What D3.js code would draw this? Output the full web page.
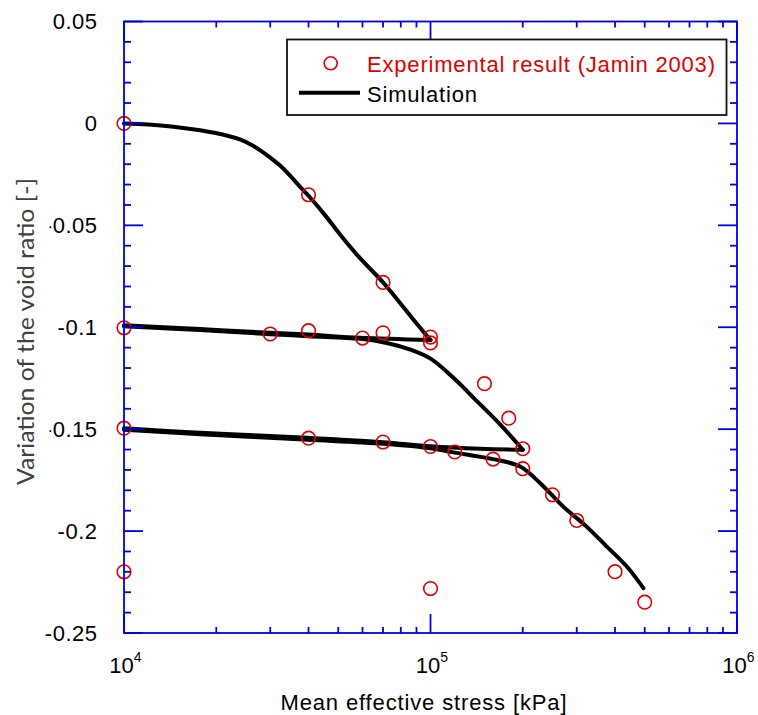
<!DOCTYPE html>
<html>
<head>
<meta charset="utf-8">
<script src="https://cdn.jsdelivr.net/npm/d3@7"></script>
<style>
  html, body { margin: 0; padding: 0; background: #fff; }
  svg { display: block; }
</style>
</head>
<body>
<svg id="chart" width="758" height="715"></svg>
<script>
// ---------------- data ----------------
const yTickValues = [0.05, 0, -0.05, -0.1, -0.15, -0.2, -0.25];
const yTickLabels = ["0.05", "0", "-0.05", "-0.1", "-0.15", "-0.2", "-0.25"];
const xTickValues = [1e4, 1e5, 1e6];
const xTickExponents = ["4", "5", "6"];

// experimental points [p (kPa), delta e]
const expStress = [1e4, 4e4, 7e4, 1e5, 1e5,
                   1e4, 3e4, 4e4, 6e4, 7e4, 1.5e5, 1.8e5, 2e5,
                   1e4, 4e4, 7e4, 1e5, 1.2e5, 1.6e5, 2e5, 2.5e5, 3e5, 4e5, 5e5,
                   1e4, 1e5];
const expVoid = [0, -0.035, -0.078, -0.1048, -0.1077,
                 -0.1003, -0.1033, -0.1017, -0.1053, -0.1027, -0.1277, -0.1446, -0.1596,
                 -0.1495, -0.1544, -0.1563, -0.1585, -0.1612, -0.1647, -0.1694, -0.1822, -0.1948, -0.2199, -0.2349,
                 -0.22, -0.2282];

// simulation branches
const simLoad1 = [[1e4,0],[1.2e4,-0.0005],[1.45e4,-0.0016],[1.77e4,-0.0034],[2.16e4,-0.0059],[2.4e4,-0.008],
  [2.6e4,-0.0105],[2.8e4,-0.0135],[3.0e4,-0.0168],[3.25e4,-0.021],[3.5e4,-0.026],[3.75e4,-0.031],[4e4,-0.0355],
  [4.5e4,-0.0445],[5.1e4,-0.055],[5.8e4,-0.065],[7e4,-0.078],[7.8e4,-0.0865],[8.8e4,-0.0963],[1e5,-0.1063]];
const simUnload1 = [[1e5,-0.1063],[5.9e4,-0.1052],[4e4,-0.1036],[3e4,-0.1027],[1.77e4,-0.1009],[1e4,-0.099]];
const simLoad2 = [[1e4,-0.0995],[1.77e4,-0.1014],[3e4,-0.1034],[4e4,-0.1044],[5.9e4,-0.1057],[7.2e4,-0.1077],
  [8.6e4,-0.111],[1e5,-0.1154],[1.19e5,-0.1249],[1.42e5,-0.1364],[1.69e5,-0.1478],[2e5,-0.1601]];
const simUnload2 = [[2e5,-0.1601],[1.45e5,-0.1596],[1e5,-0.1584],[7e4,-0.1564],[3.95e4,-0.1542],[1.77e4,-0.1518],[1e4,-0.1496]];
const simLoad3 = [[1e4,-0.1503],[1.77e4,-0.1525],[4e4,-0.1552],[7e4,-0.1572],[1e5,-0.1594],[1.19e5,-0.1614],
  [1.6e5,-0.1647],[1.96e5,-0.1683],[2.28e5,-0.1765],[2.71e5,-0.188],[3.23e5,-0.1978],[3.76e5,-0.2076],
  [4.37e5,-0.2174],[4.95e5,-0.228]];

const xTitle = "Mean effective stress [kPa]";
const yTitle = "Variation of the void ratio [-]";
const legendExp = "Experimental result (Jamin 2003)";
const legendSim = "Simulation";

// ---------------- drawing ----------------
const BLUE = "#0000e6", RED = "#e00000";
const svg = d3.select("#chart");
const L = 124, R = 737, T = 21.5, B = 633;
const x = d3.scaleLog().domain([1e4, 1e6]).range([L, R]);
const y = d3.scaleLinear().domain([-0.25, 0.05]).range([B, T]);

// simulation lines
const line = d3.line().x(d => x(d[0])).y(d => y(d[1])).curve(d3.curveCatmullRom);
[simLoad1, simUnload1, simLoad2, simUnload2, simLoad3].forEach(br => {
  svg.append("path").attr("d", line(br)).attr("fill", "none")
    .attr("stroke", "#000").attr("stroke-width", 4)
    .attr("stroke-linejoin", "round").attr("stroke-linecap", "round");
});

// experimental circles
svg.append("g").selectAll("circle").data(expStress.map((p, i) => [p, expVoid[i]]))
  .join("circle")
  .attr("cx", d => x(d[0])).attr("cy", d => y(d[1])).attr("r", 6.8)
  .attr("fill", "none").attr("stroke", RED).attr("stroke-width", 1.6);

// frame and ticks
const ax = svg.append("g").attr("stroke", BLUE).attr("stroke-width", 1.8);
ax.append("rect").attr("x", L).attr("y", T).attr("width", R - L).attr("height", B - T).attr("fill", "none");

// y ticks
const yMinor = d3.range(-25, 6).map(v => v / 100);
yMinor.forEach(v => {
  const major = Math.abs(Math.round(v * 100) % 5) === 0;
  const len = major ? 19 : 7;
  ax.append("line").attr("x1", L).attr("x2", L + len).attr("y1", y(v)).attr("y2", y(v));
  ax.append("line").attr("x1", R).attr("x2", R - len).attr("y1", y(v)).attr("y2", y(v));
});
// x ticks
const xMinor = [];
[1e4, 1e5].forEach(d => { for (let k = 2; k <= 9; k++) xMinor.push(d * k); });
xMinor.forEach(v => {
  ax.append("line").attr("x1", x(v)).attr("x2", x(v)).attr("y1", B).attr("y2", B - 6);
  ax.append("line").attr("x1", x(v)).attr("x2", x(v)).attr("y1", T).attr("y2", T + 6);
});
xTickValues.forEach(v => {
  ax.append("line").attr("x1", x(v)).attr("x2", x(v)).attr("y1", B).attr("y2", B - 19);
  ax.append("line").attr("x1", x(v)).attr("x2", x(v)).attr("y1", T).attr("y2", T + 19);
});

const FONT = "'Liberation Sans', Arial, sans-serif";
// y tick labels
yTickValues.forEach((v, i) => {
  svg.append("text").attr("x", 97.5).attr("y", y(v)).attr("dy", "0.36em")
    .attr("text-anchor", "end").attr("font-family", FONT).attr("font-size", 22)
    .attr("letter-spacing", "0.5px").attr("fill", "#000").text(yTickLabels[i]);
});
// x tick labels
xTickValues.forEach((v, i) => {
  const t = svg.append("text").attr("x", x(v) + 1.5).attr("y", 673)
    .attr("text-anchor", "middle").attr("font-family", FONT).attr("font-size", 22).attr("fill", "#000");
  t.append("tspan").text("10");
  t.append("tspan").attr("font-size", 14).attr("dy", -11).text(xTickExponents[i]);
});

// x title
svg.append("text").attr("x", 423.5).attr("y", 709.5).attr("text-anchor", "middle")
  .attr("font-family", FONT).attr("font-size", 22).attr("fill", "#000")
  .attr("textLength", 286).attr("lengthAdjust", "spacing").text(xTitle);

// y title (with white box behind it)
svg.append("rect").attr("x", 0).attr("y", 170).attr("width", 49.5).attr("height", 322).attr("fill", "#fff");
svg.append("text").attr("transform", "translate(33.5,331.5) rotate(-90)")
  .attr("text-anchor", "middle").attr("font-family", "Lato, 'Open Sans', sans-serif")
  .attr("font-size", 23).attr("fill", "#404040")
  .attr("textLength", 307).attr("lengthAdjust", "spacingAndGlyphs").text(yTitle);

// legend
const lg = svg.append("g");
lg.append("rect").attr("x", 287).attr("y", 39.5).attr("width", 439.5).attr("height", 75.5)
  .attr("fill", "#fff").attr("stroke", "#111").attr("stroke-width", 1.8);
lg.append("circle").attr("cx", 330.7).attr("cy", 63.3).attr("r", 6.5)
  .attr("fill", "none").attr("stroke", RED).attr("stroke-width", 1.6);
lg.append("text").attr("x", 367).attr("y", 71.5).attr("font-family", FONT).attr("font-size", 22)
  .attr("fill", RED).attr("textLength", 348).attr("lengthAdjust", "spacing").text(legendExp);
lg.append("line").attr("x1", 299).attr("x2", 360).attr("y1", 92.7).attr("y2", 92.7)
  .attr("stroke", "#000").attr("stroke-width", 4);
lg.append("text").attr("x", 367).attr("y", 101.5).attr("font-family", FONT).attr("font-size", 22)
  .attr("fill", "#000").attr("textLength", 110).attr("lengthAdjust", "spacing").text(legendSim);
</script>
</body>
</html>
